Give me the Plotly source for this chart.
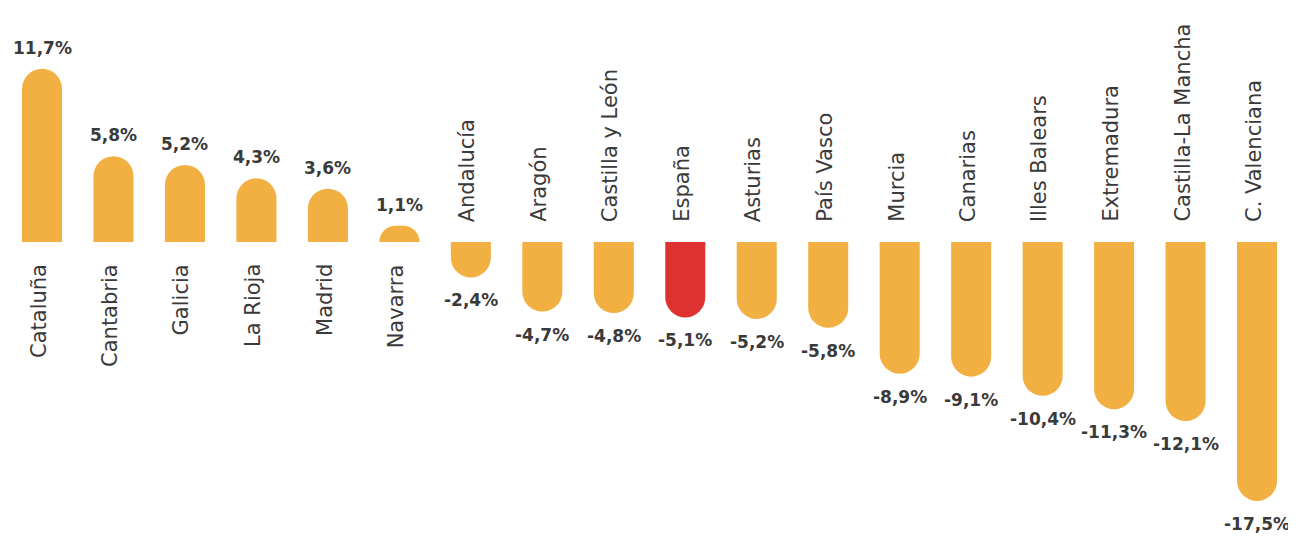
import plotly.graph_objects as go

categories = ["Cataluña", "Cantabria", "Galicia", "La Rioja", "Madrid", "Navarra",
              "Andalucía", "Aragón", "Castilla y León", "España", "Asturias", "País Vasco",
              "Murcia", "Canarias", "Illes Balears", "Extremadura", "Castilla-La Mancha",
              "C. Valenciana"]
values = [11.7, 5.8, 5.2, 4.3, 3.6, 1.1, -2.4, -4.7, -4.8, -5.1, -5.2, -5.8,
          -8.9, -9.1, -10.4, -11.3, -12.1, -17.5]
value_labels = ["11,7%", "5,8%", "5,2%", "4,3%", "3,6%", "1,1%", "-2,4%", "-4,7%",
                "-4,8%", "-5,1%", "-5,2%", "-5,8%", "-8,9%", "-9,1%", "-10,4%",
                "-11,3%", "-12,1%", "-17,5%"]
highlight = "España"

ORANGE = "#F2AF42"
RED = "#DE3230"
TEXT = "#3a3a3a"
FONT = "DejaVu Sans"

colors = [RED if c == highlight else ORANGE for c in categories]

fig = go.Figure(go.Bar(
    x=categories, y=values, marker=dict(color=colors, line=dict(width=0)),
    hoverinfo="skip",
))

annotations = []
for c, v, lab in zip(categories, values, value_labels):
    pos = v >= 0
    annotations.append(dict(
        x=c, y=v, xref="x", yref="y", text=lab, showarrow=False,
        yanchor="bottom" if pos else "top", yshift=9 if pos else -11,
        font=dict(family=FONT, size=17, color=TEXT, weight="bold"),
    ))
    annotations.append(dict(
        x=c, y=0, xref="x", yref="y", text=c, showarrow=False, textangle=-90,
        yanchor="top" if pos else "bottom", yshift=-20 if pos else 18, xshift=-3,
        font=dict(family=FONT, size=21, color=TEXT),
    ))

fig.update_layout(
    width=1296, height=544,
    margin=dict(l=0, r=0, t=0, b=0),
    paper_bgcolor="white", plot_bgcolor="white",
    bargap=0.44, barcornerradius=20,
    showlegend=False,
    xaxis=dict(visible=False, range=[-0.476, 17.657]),
    yaxis=dict(visible=False, range=[-20.95, 15.81]),
    annotations=annotations,
)

fig.write_html("out.html")
